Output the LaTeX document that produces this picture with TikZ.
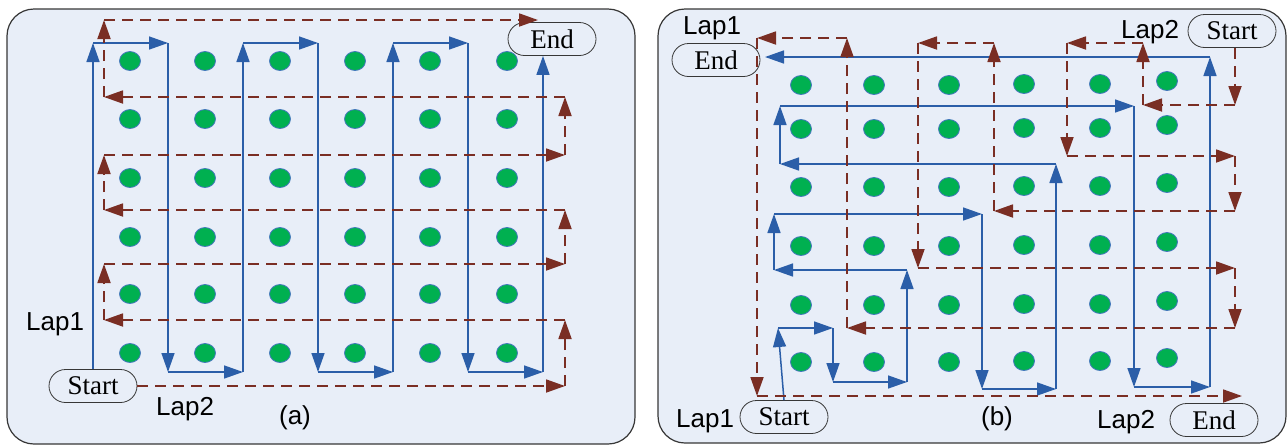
\documentclass[tikz,border=0pt]{standalone}
\usepackage{fontspec}
\setmainfont{Liberation Serif}
\newfontfamily\labelfont{Liberation Sans}
\usetikzlibrary{arrows.meta,shapes.misc}

\definecolor{panelfill}{RGB}{232,238,248}
\definecolor{panelline}{RGB}{55,55,55}
\definecolor{lapblue}{RGB}{43,94,168}
\definecolor{lapred}{RGB}{122,46,36}
\definecolor{dotgreen}{RGB}{0,176,80}
\definecolor{dotrim}{RGB}{70,120,190}

\tikzset{
  panel/.style={draw=panelline, line width=1.2pt, fill=panelfill, rounded corners=27pt},
  sensor/.style={fill=dotgreen, draw=dotrim, line width=0.8pt},
  terminal/.style={draw=panelline, line width=0.8pt, fill=panelfill, rounded rectangle,
    minimum width=88pt, minimum height=33pt, inner sep=0pt,
    font=\fontsize{27}{30}\selectfont},
  laplabel/.style={font=\labelfont\fontsize{26}{30}\selectfont, inner sep=0pt, anchor=base west},
  capt/.style={font=\labelfont\fontsize{26}{30}\selectfont, inner sep=0pt, anchor=base},
  lapone/.style={draw=lapblue, line width=1.5pt, -{Triangle[length=19pt,width=13pt]}},
  laptwo/.style={draw=lapred, line width=1.8pt, dash pattern=on 11pt off 7pt,
    -{Triangle[length=19pt,width=13pt]}},
}

% a walk of arrowed segments through named points
\newcommand\lapwalk[3]{%
  \foreach \p [remember=\p as \q (initially #2)] in {#3} {\draw[#1] (\q) -- (\p);}}

\begin{document}
\begin{tikzpicture}[x=1pt,y=-1pt]
\useasboundingbox (0,0) rectangle (1288,445);

% ---------- panel (a) ----------
\draw[panel] (7,9) rectangle (635,444);
\foreach \x in {130,205,280,355,430,507}
  \foreach \y in {61,119,178,237,294,353}
    \filldraw[sensor] (\x,\y) ellipse [x radius=10.5pt, y radius=9.5pt];

\node[terminal] (startA) at (93,386) {Start};
\node[terminal] (endA) at (552,39) {End};

% lap 1: vertical sweep
\coordinate (a1) at (93,43);   \coordinate (a2) at (168,43);
\coordinate (a3) at (168,372); \coordinate (a4) at (243,372);
\coordinate (a5) at (243,43);  \coordinate (a6) at (318,43);
\coordinate (a7) at (318,372); \coordinate (a8) at (393,372);
\coordinate (a9) at (393,43);  \coordinate (a10) at (468,43);
\coordinate (a11) at (468,372); \coordinate (a12) at (543,372);
\coordinate (a13) at (a12 |- endA.south);
\lapwalk{lapone}{startA.north}{a1,a2,a3,a4,a5,a6,a7,a8,a9,a10,a11,a12,a13}

% lap 2: horizontal sweep
\coordinate (b1) at (565,386);  \coordinate (b2) at (565,320);
\coordinate (b3) at (104,320);  \coordinate (b4) at (104,264);
\coordinate (b5) at (565,264);  \coordinate (b6) at (565,210);
\coordinate (b7) at (104,210);  \coordinate (b8) at (104,155);
\coordinate (b9) at (565,155);  \coordinate (b10) at (565,97);
\coordinate (b11) at (104,97);  \coordinate (b12) at (104,20);
\coordinate (b13) at (538,20);
\lapwalk{laptwo}{startA.east}{b1,b2,b3,b4,b5,b6,b7,b8,b9,b10,b11,b12,b13}

\node[laplabel] (lapA1) at (26,330) {Lap1};
\node[laplabel] (lapA2) at (156,415) {Lap2};
\node[capt] (captA) at (295,424) {(a)};

% ---------- panel (b) ----------
\draw[panel] (658,9) rectangle (1286,443);
\foreach \x/\dy in {801/0,874/0,949/0,1024/-1,1100/-1,1167/-4}
  \foreach \y in {85,129,187,246,305,362}
    \filldraw[sensor] (\x,\y+\dy) ellipse [x radius=10.5pt, y radius=9.5pt];

\node[terminal] (startB1) at (784,417) {Start};
\node[terminal] (endB1) at (716,60) {End};
\node[terminal] (startB2) at (1232,31) {Start};
\node[terminal] (endB2) at (1214,420) {End};

% lap 1: sweep from the lower left
\coordinate (c1) at (778,328);  \coordinate (c2) at (833,328);
\coordinate (c3) at (833,382);  \coordinate (c4) at (907,382);
\coordinate (c5) at (907,270);  \coordinate (c6) at (774,270);
\coordinate (c7) at (774,214);  \coordinate (c8) at (982,214);
\coordinate (c9) at (982,389);  \coordinate (c10) at (1056,389);
\coordinate (c11) at (1056,164); \coordinate (c12) at (780,164);
\coordinate (c13) at (780,106); \coordinate (c14) at (1134,106);
\coordinate (c15) at (1134,387); \coordinate (c16) at (1210,387);
\coordinate (c17) at (1210,57); \coordinate (c18) at (765,57);
\lapwalk{lapone}{startB1.north}{c1,c2,c3,c4,c5,c6,c7,c8,c9,c10,c11,c12,c13,c14,c15,c16,c17,c18}

% lap 2: sweep from the upper right
\coordinate (d1) at (1235,105); \coordinate (d2) at (1143,105);
\coordinate (d0) at (d1 |- startB2.south);
\coordinate (d3) at (1143,43);  \coordinate (d4) at (1067,43);
\coordinate (d5) at (1067,156); \coordinate (d6) at (1235,156);
\coordinate (d7) at (1235,211); \coordinate (d8) at (994,211);
\coordinate (d9) at (994,43);   \coordinate (d10) at (918,43);
\coordinate (d11) at (918,268); \coordinate (d12) at (1235,268);
\coordinate (d13) at (1235,328); \coordinate (d14) at (847,328);
\coordinate (d15) at (847,38);  \coordinate (d16) at (757,38);
\coordinate (d17) at (757,396); \coordinate (d18) at (1242,396);
\lapwalk{laptwo}{d0}{d1,d2,d3,d4,d5,d6,d7,d8,d9,d10,d11,d12,d13,d14,d15,d16,d17,d18}

\node[laplabel] (lapB1t) at (683,34) {Lap1};
\node[laplabel] (lapB1b) at (676,427) {Lap1};
\node[laplabel] (lapB2t) at (1121,38) {Lap2};
\node[laplabel] (lapB2b) at (1097,428) {Lap2};
\node[capt] (captB) at (997,425) {(b)};
\end{tikzpicture}
\end{document}
